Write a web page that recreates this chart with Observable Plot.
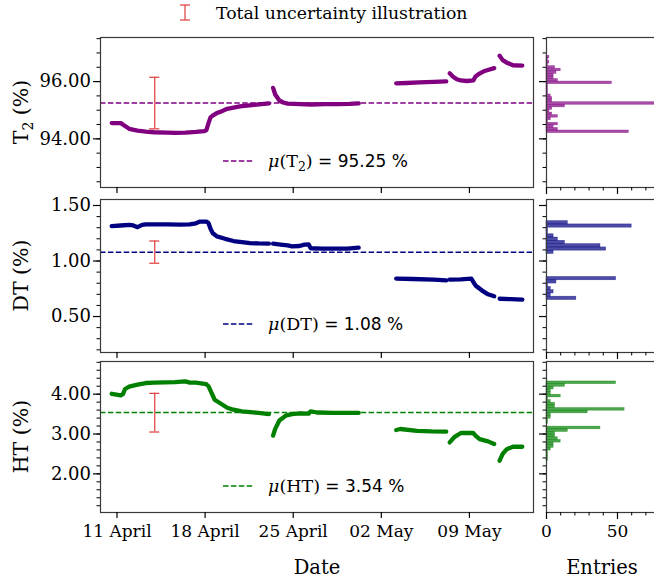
<!DOCTYPE html>
<html><head><meta charset="utf-8">
<script src="https://cdn.jsdelivr.net/npm/d3@7"></script>
<script src="https://cdn.jsdelivr.net/npm/@observablehq/plot@0.6"></script>
<style>
html,body{margin:0;padding:0;background:#fff;}
#fig{position:relative;width:654px;height:583px;overflow:hidden;background:#fff;}
#fig > div{position:absolute;}
#fig svg{overflow:visible;max-width:none !important;}
</style></head><body><div id="fig"></div>
<script>
// ---------- data ----------
const dateTickDays = [0, 7, 14, 21, 28];
const dateTickLabels = ["11 April", "18 April", "25 April", "02 May", "09 May"];
const baseDate = Date.UTC(2022, 3, 11); // 11 April

// [day offset from 11 April, value %], one array per continuous stretch
const t2Segments = [
  [[-0.42,94.55],[0.30,94.55],[0.64,94.45],[0.97,94.35],[1.63,94.29],[2.29,94.25],[2.96,94.23],[4.0,94.22],[4.61,94.21],[5.44,94.22],[6.27,94.24],[6.94,94.27],[7.10,94.30],[7.27,94.55],[7.43,94.75],[7.60,94.81],[7.93,94.90],[8.26,94.95],[8.76,95.05],[9.75,95.13],[10.9,95.19],[12.07,95.24]],
  [[12.40,95.78],[12.57,95.55],[12.90,95.34],[13.2,95.27],[13.56,95.23],[14.56,95.21],[15.4,95.20],[16.5,95.21],[17.5,95.21],[18.5,95.22],[19.20,95.24]],
  [[22.18,95.94],[23.0,95.95],[24.0,95.97],[25.16,95.99],[26.16,96.01]],
  [[26.43,96.29],[26.7,96.17],[27.0,96.08],[27.3,96.04],[27.8,96.02],[28.31,96.04],[28.48,96.18],[28.8,96.28],[29.14,96.36],[29.6,96.42],[29.97,96.47]],
  [[30.40,96.90],[30.64,96.75],[30.97,96.66],[31.46,96.57],[32.20,96.56]]
];
const dtSegments = [
  [[-0.42,1.315],[0.30,1.32],[0.97,1.325],[1.30,1.32],[1.63,1.305],[2.0,1.325],[2.29,1.33],[3.0,1.33],[4.0,1.33],[5.0,1.328],[5.77,1.33],[6.27,1.34],[6.60,1.355],[7.10,1.355],[7.27,1.342],[7.43,1.29],[7.60,1.252],[7.93,1.222],[8.59,1.20],[9.25,1.18],[9.92,1.171],[10.58,1.162],[11.24,1.158],[12.07,1.156]],
  [[12.40,1.156],[13.0,1.148],[13.56,1.141],[13.90,1.132],[14.5,1.135],[14.89,1.147],[15.22,1.15],[15.39,1.115],[16.3,1.112],[17.21,1.111],[18.3,1.112],[19.20,1.12]],
  [[22.18,0.841],[23.5,0.838],[25.16,0.832],[26.16,0.826]],
  [[26.43,0.832],[27.3,0.835],[28.15,0.841],[28.48,0.78],[28.98,0.736],[29.48,0.70],[29.97,0.682]],
  [[30.40,0.66],[31.3,0.656],[32.20,0.652]]
];
const htSegments = [
  [[-0.42,4.01],[0.30,3.97],[0.47,4.0],[0.64,4.13],[0.97,4.19],[1.63,4.24],[2.29,4.28],[2.96,4.29],[4.61,4.30],[5.44,4.32],[5.77,4.29],[6.27,4.29],[6.94,4.26],[7.10,4.25],[7.27,4.20],[7.43,4.09],[7.76,3.86],[8.26,3.76],[8.76,3.66],[9.25,3.61],[9.92,3.57],[10.58,3.55],[11.24,3.53],[12.07,3.50]],
  [[12.40,2.96],[12.57,3.13],[12.90,3.34],[13.40,3.46],[13.90,3.50],[14.56,3.52],[15.22,3.51],[15.39,3.57],[15.89,3.54],[17.2,3.53],[19.20,3.53]],
  [[22.18,3.10],[22.51,3.126],[23.84,3.08],[25.0,3.065],[26.16,3.06]],
  [[26.43,2.79],[26.83,2.93],[27.32,3.025],[28.31,3.025],[28.48,2.96],[28.81,2.87],[29.48,2.815],[29.97,2.75]],
  [[30.40,2.33],[30.64,2.50],[30.97,2.62],[31.46,2.68],[32.20,2.68]]
];

const t2Mean = 95.25, dtMean = 1.08, htMean = 3.54;
const uncDay = 3.0;
const t2Unc = [94.35, 96.15];
const dtUnc = [0.98, 1.18];
const htUnc = [3.05, 4.02];

// histograms: first bin lower edge, bin width, counts from bottom bin upward
const t2BinStart = 94.20, t2BinWidth = 0.09;
const t2Counts = [58,8,5,8,1,3,8,4,2,4,13,78,4,4,3,1,1,1,1,46,8,5,5,7,10,6,1,2,1,2];
const dtBinStart = 0.649, dtBinWidth = 0.0296;
const dtCounts = [21,3,5,3,1,7,49,0,0,0,0,0,0,0,5,42,38,13,8,5,1,1,60,15];
const htBinStart = 2.318, htBinWidth = 0.0667;
const htCounts = [1,1,1,1,3,5,5,10,8,6,6,15,38,0,1,1,3,3,29,55,6,6,3,1,10,3,3,5,13,49];

const t2YTicks = [94, 96];
const dtYTicks = [0.5, 1.0, 1.5];
const htYTicks = [2, 3, 4];
const histXTicks = [0, 50];

// ---------- drawing ----------
const FONT = '"DejaVu Serif", serif';
const SANS = '"DejaVu Sans", sans-serif';
const ERR = "#e24a4a";
const toDate = d => new Date(baseDate + d * 864e5);
const xDomain = [toDate(-1.31), toDate(33.09)];
const rowsOf = segs => segs.flatMap((seg, i) => seg.map(([d, v]) => ({date: toDate(d), v, seg: i})));
const fig = document.getElementById("fig");
function place(node, left, top, w, h) {
  const div = document.createElement("div");
  div.style.left = left + "px"; div.style.top = top + "px";
  div.style.width = w + "px"; div.style.height = h + "px";
  div.appendChild(node); fig.appendChild(div);
}
const dateLabel = d => {
  const k = dateTickDays.indexOf(Math.round((+d - baseDate) / 864e5));
  return k >= 0 ? dateTickLabels[k] : "";
};
const baseStyle = {background: "transparent", fontFamily: FONT, fontSize: "17px", color: "#000", overflow: "visible", maxWidth: "none"};

function timePanel(o) {
  const mTop = 10, mBot = 40, W = 540, H = (o.bottom - o.top) + mTop + mBot;
  const p = Plot.plot({
    width: W, height: H,
    marginLeft: 100, marginRight: 7, marginTop: mTop, marginBottom: mBot,
    style: baseStyle,
    x: {type: "utc", domain: xDomain, label: null},
    y: {domain: o.yDomain, label: null},
    marks: [
      Plot.ruleY([o.mean], {stroke: o.color, strokeWidth: 1.5, strokeDasharray: "5.5,2.4"}),
      Plot.line(rowsOf(o.segs), {x: "date", y: "v", z: "seg", stroke: o.color, strokeWidth: 4.3, strokeLinecap: "round", strokeLinejoin: "round"}),
      Plot.ruleX([o.unc], {x: () => toDate(uncDay), y1: d => d[0], y2: d => d[1], stroke: ERR, strokeWidth: 1.3}),
      Plot.ruleY(o.unc, {y: d => d, x1: () => toDate(uncDay - 0.4), x2: () => toDate(uncDay + 0.4), stroke: ERR, strokeWidth: 1.3}),
      Plot.frame({stroke: "#3a3a3a", strokeWidth: 1.2}),
      Plot.axisY(o.yMinor, {tickSize: 3.5, tickFormat: () => "", label: null, strokeWidth: 1}),
      Plot.axisY(o.yTicks, {tickSize: 7, tickPadding: 2.5, tickFormat: d3.format(".2f"), fontSize: 18, label: null, strokeWidth: 1.2}),
      Plot.axisX(dateTickDays.map(toDate), {tickSize: 6, tickPadding: 6, tickFormat: o.labels ? dateLabel : () => "", label: null, strokeWidth: 1.2})
    ]
  });
  place(p, 0, o.top - mTop, W, H);
}

function histPanel(o) {
  const mTop = 10, mBot = 40, W = 170, H = (o.bottom - o.top) + mTop + mBot;
  const bins = o.counts.map((c, i) => ({y1: o.start + i * o.width, y2: o.start + (i + 1) * o.width, c})).filter(b => b.c > 0);
  const p = Plot.plot({
    width: W, height: H,
    marginLeft: 46, marginRight: 8, marginTop: mTop, marginBottom: mBot,
    style: baseStyle,
    x: {domain: [0, 81.7], label: null},
    y: {domain: o.yDomain, label: null},
    marks: [
      Plot.rect(bins, {x1: 0, x2: "c", y1: "y1", y2: "y2", fill: o.color, fillOpacity: 0.7, stroke: o.color, strokeOpacity: 0.55, strokeWidth: 0.6}),
      Plot.frame({stroke: "#3a3a3a", strokeWidth: 1.2}),
      Plot.axisY(o.yMinor, {tickSize: 3.5, tickFormat: () => "", label: null}),
      Plot.axisY(o.yTicks, {tickSize: 7, tickFormat: () => "", label: null, strokeWidth: 1.2}),
      Plot.axisX(d3.range(0, 81, 10), {tickSize: 3.5, tickFormat: () => "", label: null}),
      Plot.axisX(histXTicks, {tickSize: 7, tickPadding: 5, tickFormat: o.labels ? d3.format("d") : () => "", label: null, strokeWidth: 1.2})
    ]
  });
  place(p, 500, o.top - mTop, W, H);
}

const rows = [
  {segs: t2Segments, color: "#800080", yDomain: [92.30, 97.54], yTicks: t2YTicks, yMinor: d3.range(92.5, 97.51, 0.5), mean: t2Mean, unc: t2Unc, top: 37, bottom: 187,
   counts: t2Counts, start: t2BinStart, width: t2BinWidth},
  {segs: dtSegments, color: "#000080", yDomain: [0.176, 1.554], yTicks: dtYTicks, yMinor: d3.range(0.2, 1.501, 0.1), mean: dtMean, unc: dtUnc, top: 199, bottom: 352,
   counts: dtCounts, start: dtBinStart, width: dtBinWidth},
  {segs: htSegments, color: "#008000", yDomain: [1.03, 4.82], yTicks: htYTicks, yMinor: d3.range(1.2, 4.81, 0.2), mean: htMean, unc: htUnc, top: 361, bottom: 512,
   counts: htCounts, start: htBinStart, width: htBinWidth, labels: true}
];
rows.forEach(r => { timePanel(r); histPanel(r); });

// ---------- text overlay: legends and axis titles ----------
const ov = d3.create("svg").attr("width", 654).attr("height", 583)
  .style("position", "absolute").style("left", 0).style("top", 0).style("overflow", "visible")
  .style("font-family", FONT);
// top legend
const lg = ov.append("g").attr("stroke", ERR).attr("stroke-width", 1.3);
lg.append("line").attr("x1", 185).attr("x2", 185).attr("y1", 5).attr("y2", 20);
lg.append("line").attr("x1", 180).attr("x2", 190).attr("y1", 5).attr("y2", 5);
lg.append("line").attr("x1", 180).attr("x2", 190).attr("y1", 20).attr("y2", 20);
ov.append("text").attr("x", 216).attr("y", 12.5).attr("dominant-baseline", "central")
  .style("font-family", FONT).attr("font-size", 17.3).text("Total uncertainty illustration");

// in-panel mean legends
const meanLegends = [
  {name: "T", sub: "2", value: t2Mean, color: "#800080", y: 161},
  {name: "DT", sub: null, value: dtMean, color: "#000080", y: 324},
  {name: "HT", sub: null, value: htMean, color: "#008000", y: 486}
];
meanLegends.forEach(m => {
  ov.append("line").attr("x1", 223).attr("x2", 254).attr("y1", m.y).attr("y2", m.y)
    .attr("stroke", m.color).attr("stroke-width", 1.5).attr("stroke-dasharray", "5.5,2.4");
  const t = ov.append("text").attr("x", 268).attr("y", m.y + 6).attr("font-size", 17.5).style("font-family", FONT);
  t.append("tspan").attr("font-style", "italic").text("μ");
  t.append("tspan").text("(" + m.name);
  if (m.sub) {
    t.append("tspan").attr("dy", 4).attr("font-size", 12.5).text(m.sub);
    t.append("tspan").attr("dy", -4).text(")");
  } else t.append("tspan").text(")");
  t.append("tspan").style("font-family", SANS).attr("font-size", 17).text(" = " + m.value.toFixed(2) + " %");
});

// y axis titles
const yTitles = [{name: "T", sub: "2", cy: 112}, {name: "DT", cy: 275.5}, {name: "HT", cy: 436.5}];
yTitles.forEach(a => {
  const t = ov.append("text").attr("transform", `translate(28,${a.cy}) rotate(-90)`)
    .attr("text-anchor", "middle").attr("font-size", 20.5).style("font-family", FONT);
  t.append("tspan").text(a.name);
  if (a.sub) {
    t.append("tspan").attr("dy", 5).attr("font-size", 14).text(a.sub);
    t.append("tspan").attr("dy", -5).text(" (%)");
  } else t.append("tspan").text(" (%)");
});
ov.append("text").attr("x", 317).attr("y", 567).attr("dominant-baseline", "central").attr("text-anchor", "middle").attr("font-size", 19.5).style("font-family", FONT).text("Date");
ov.append("text").attr("x", 602).attr("y", 567).attr("dominant-baseline", "central").attr("text-anchor", "middle").attr("font-size", 19.5).style("font-family", FONT).text("Entries");
fig.appendChild(ov.node());
</script></body></html>
